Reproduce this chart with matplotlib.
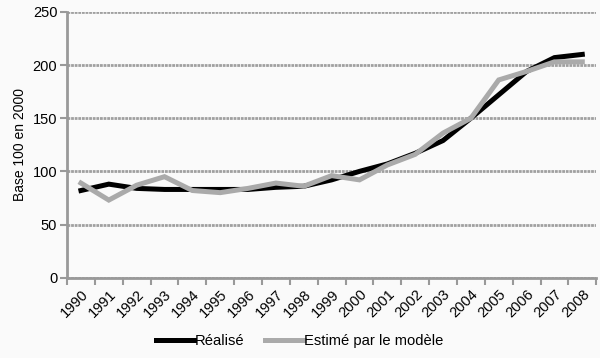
import matplotlib
matplotlib.use("Agg")
import matplotlib.pyplot as plt
import numpy as np

years = [str(y) for y in range(1990, 2009)]
realise = [82, 88, 84, 83, 83, 83, 83, 85, 86, 92, 100, 107, 117, 129, 150, 172, 194, 207, 210]
estime = [89, 73, 87, 95, 82, 80, 84, 89, 86, 96, 92, 106, 116, 136, 150, 186, 194, 203, 203]

plt.rcParams['font.family'] = ['Liberation Sans', 'DejaVu Sans']
bg = '#fafafa'
fig = plt.figure(figsize=(6, 3.58), dpi=100, facecolor=bg)
ax = fig.add_axes([0.1117, 0.2243, 0.882, 0.7425], facecolor=bg)

x = np.arange(len(years)) + 0.5
ax.plot(x, realise, color='black', lw=3.6, solid_joinstyle='miter', label='Réalisé', zorder=3)
ax.plot(x, estime, color='#aaaaaa', lw=3.6, solid_joinstyle='miter', label='Estimé par le modèle', zorder=4)

ax.set_xlim(0, len(years))
ax.set_ylim(0, 250)
ax.set_yticks(range(0, 251, 50))
ax.tick_params(axis='y', labelsize=10.5, length=5, width=1.5, color='#999999', pad=2)
ax.set_xticks(np.arange(len(years) + 1))
ax.set_xticklabels([])
ax.set_xticks(x, minor=True)
ax.set_xticklabels(years, minor=True, rotation=45, ha='right', rotation_mode='anchor', fontsize=10.5)
ax.tick_params(axis='x', which='major', length=5, width=1.5, color='#999999')
ax.tick_params(axis='x', which='minor', length=0, pad=7)
ax.yaxis.grid(True, color='#a0a0a0', lw=2, ls=(0, (1, 0.3)))
ax.set_axisbelow(True)
for s in ['top', 'right']:
    ax.spines[s].set_visible(False)
for s in ['left', 'bottom']:
    ax.spines[s].set_color('#999999')
    ax.spines[s].set_linewidth(2)
ax.set_ylabel('Base 100 en 2000', fontsize=10, labelpad=4)

fig.legend(loc='center', bbox_to_anchor=(0.5, 0.048), ncol=2, frameon=False, fontsize=10.6,
           handlelength=2.6, handletextpad=0.05, columnspacing=1.4)
fig.savefig('out.png', dpi=100, facecolor=bg)
